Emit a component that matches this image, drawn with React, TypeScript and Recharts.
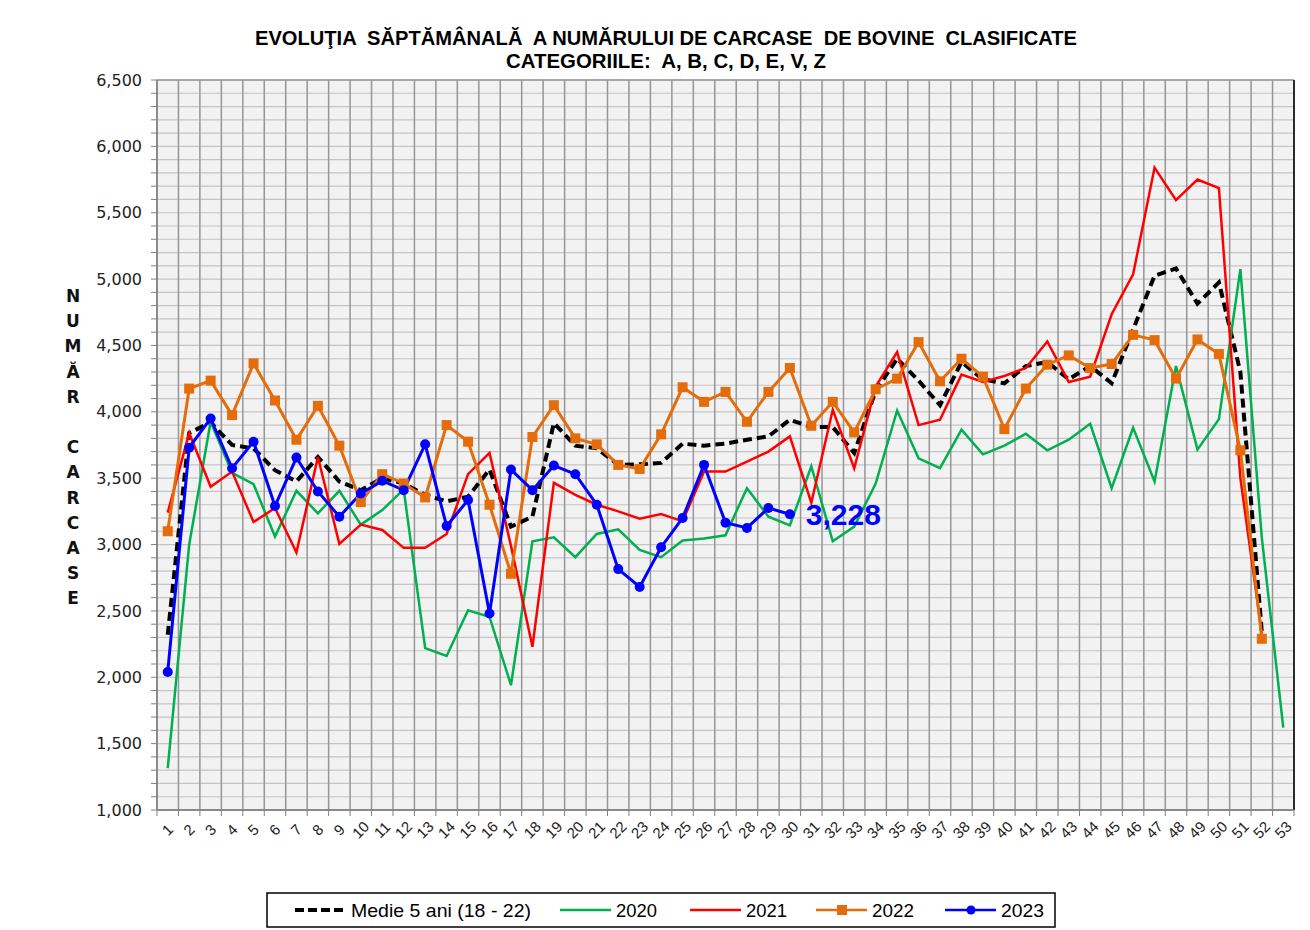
import React from 'react';
import { LineChart, Line, XAxis, YAxis, CartesianGrid, ReferenceLine, LabelList } from 'recharts';

// week numbers on the category axis
const weeks = [
  1, 2, 3, 4, 5, 6, 7, 8, 9, 10, 11, 12, 13, 14, 15, 16, 17, 18, 19, 20, 21, 22, 23, 24, 25, 26, 27,
  28, 29, 30, 31, 32, 33, 34, 35, 36, 37, 38, 39, 40, 41, 42, 43, 44, 45, 46, 47, 48, 49, 50, 51, 52, 53,
];

const medie5 = [
  2320, 3840, 3920, 3750, 3725, 3560, 3475, 3660, 3475, 3410, 3500, 3460, 3375, 3325, 3360, 3565, 3135, 3210,
  3915, 3745, 3725, 3600, 3605, 3615, 3760, 3745, 3760, 3790, 3815, 3940, 3885, 3885, 3690, 4160, 4400, 4235,
  4050, 4375, 4245, 4215, 4345, 4375, 4245, 4345, 4215, 4620, 5025, 5080, 4815, 4975, 4300, 2340, null,
];

const y2020 = [
  1315, 3000, 3925, 3540, 3455, 3060, 3405, 3235, 3405, 3150, 3260, 3415, 2220, 2160, 2505, 2455, 1940, 3025,
  3055, 2905, 3080, 3115, 2960, 2905, 3030, 3045, 3070, 3425, 3210, 3145, 3590, 3025, 3135, 3460, 4010, 3650,
  3575, 3865, 3680, 3745, 3835, 3710, 3790, 3910, 3425, 3880, 3475, 4345, 3715, 3945, 5075, 3050, 1620,
];

const y2021 = [
  3240, 3840, 3435, 3550, 3170, 3275, 2940, 3660, 3005, 3150, 3110, 2975, 2975, 3080, 3530, 3690, 2990, 2230,
  3465, 3375, 3300, 3250, 3195, 3230, 3175, 3550, 3550, 3625, 3700, 3815, 3315, 4015, 3575, 4190, 4450, 3900,
  3940, 4280, 4225, 4270, 4330, 4530, 4225, 4265, 4735, 5035, 5840, 5595, 5750, 5685, 3500, 2330, null,
];

const y2022 = [
  3100, 4175, 4235, 3975, 4365, 4085, 3790, 4045, 3745, 3320, 3530, 3460, 3355, 3900, 3775, 3300, 2780, 3810,
  4050, 3800, 3755, 3600, 3570, 3830, 4185, 4075, 4150, 3925, 4150, 4330, 3895, 4075, 3845, 4170, 4250, 4525,
  4230, 4400, 4265, 3870, 4175, 4355, 4425, 4330, 4360, 4580, 4540, 4250, 4545, 4435, 3710, 2290, null,
];

const y2023 = [
  2040, 3730, 3950, 3575, 3775, 3290, 3655, 3400, 3210, 3385, 3480, 3410, 3755, 3140, 3335, 2480, 3565, 3410,
  3595, 3530, 3300, 2815, 2680, 2980, 3200, 3600, 3165, 3125, 3275, 3228,
];

const yTicks = [1000, 1500, 2000, 2500, 3000, 3500, 4000, 4500, 5000, 5500, 6000, 6500];
const yTitle = ['N', 'U', 'M', 'Ă', 'R', ' ', 'C', 'A', 'R', 'C', 'A', 'S', 'E'];

const data = weeks.map((w, i) => ({
  week: w,
  medie: medie5[i] ?? null,
  y2020: y2020[i] ?? null,
  y2021: y2021[i] ?? null,
  y2022: y2022[i] ?? null,
  y2023: y2023[i] ?? null,
}));

// every 100 carcases a light grid line, every 500 a darker one
const minorTicks: number[] = [];
for (let v = 1000; v <= 6500; v += 100) minorTicks.push(v);
// vertical grid lines sit between the weeks
const catEdges = [0, ...weeks].map((w) => w + 0.5);

const GREEN = '#00b050';
const RED = '#ff0000';
const ORANGE = '#e46c0a';
const BLUE = '#0000ff';

const fmt = (v: number) => v.toLocaleString('en-US');

const WeekTick = (props: any) => {
  const { x, y, payload } = props;
  return (
    <text
      x={x}
      y={y + 11}
      textAnchor="middle"
      transform={`rotate(-45 ${x} ${y + 6})`}
      fontSize={15}
      fontFamily="Liberation Sans, Arial, sans-serif"
      fill="#222"
    >
      {payload.value}
    </text>
  );
};

const SquareDot = (props: any) => {
  const { cx, cy, value, index } = props;
  if (cx == null || cy == null || value == null) return <g key={`s${index}`} />;
  return <rect key={`s${index}`} x={cx - 5} y={cy - 5} width={10} height={10} fill={ORANGE} />;
};

const RoundDot = (props: any) => {
  const { cx, cy, value, index } = props;
  if (cx == null || cy == null || value == null) return <g key={`c${index}`} />;
  return <circle key={`c${index}`} cx={cx} cy={cy} r={5} fill={BLUE} />;
};

const lastIdx = y2023.length - 1;
const EndLabel = (props: any) => {
  const { x, y, value, index } = props;
  if (index !== lastIdx || value == null) return null;
  return (
    <text x={x + 16} y={y + 11} fill={BLUE} fontSize={30} fontWeight="bold" fontFamily="Liberation Sans, Arial, sans-serif">
      {fmt(value)}
    </text>
  );
};

const legendItems = [
  { name: 'Medie 5 ani (18 - 22)', color: '#000', x: 29, dash: true, w: 180 },
  { name: '2020', color: GREEN, x: 294, w: 41 },
  { name: '2021', color: RED, x: 424, w: 41 },
  { name: '2022', color: ORANGE, x: 550, marker: 'square', w: 42 },
  { name: '2023', color: BLUE, x: 679, marker: 'circle', w: 43 },
];

const ChartLegend = () => (
  <svg width={792} height={37} style={{ position: 'absolute', left: 266, top: 892 }}>
    <rect x={1} y={1} width={788} height={34} fill="#fff" stroke="#000" strokeWidth={1.5} />
    {legendItems.map((it) => (
      <g key={it.name}>
        <line
          x1={it.x}
          x2={it.x + 51}
          y1={18}
          y2={18}
          stroke={it.color}
          strokeWidth={it.dash ? 4 : 2.5}
          strokeDasharray={it.dash ? '9 4' : undefined}
        />
        {it.marker === 'square' && <rect x={it.x + 21} y={13} width={10} height={10} fill={it.color} />}
        {it.marker === 'circle' && <circle cx={it.x + 26} cy={18} r={4.5} fill={it.color} />}
        <text
          x={it.x + 56}
          y={25}
          fontSize={19}
          fontFamily="Liberation Sans Narrow, Liberation Sans, Arial, sans-serif"
          textLength={it.w}
          lengthAdjust="spacingAndGlyphs"
          fill="#000"
        >
          {it.name}
        </text>
      </g>
    ))}
  </svg>
);

const Titles = () => (
  <svg width={1310} height={930} style={{ position: 'absolute', left: 0, top: 0, pointerEvents: 'none' }}>
    <text
      x={666}
      y={45}
      textAnchor="middle"
      fontSize={20}
      fontWeight="bold"
      fontFamily="Liberation Sans Narrow, Liberation Sans, Arial, sans-serif"
      textLength={822}
      lengthAdjust="spacingAndGlyphs"
      fill="#000"
      style={{ whiteSpace: 'pre' }}
    >
      {'EVOLUŢIA  SĂPTĂMÂNALĂ  A NUMĂRULUI DE CARCASE  DE BOVINE  CLASIFICATE'}
    </text>
    <text
      x={666}
      y={68}
      textAnchor="middle"
      fontSize={20}
      fontWeight="bold"
      fontFamily="Liberation Sans Narrow, Liberation Sans, Arial, sans-serif"
      textLength={320}
      lengthAdjust="spacingAndGlyphs"
      fill="#000"
      style={{ whiteSpace: 'pre' }}
    >
      {'CATEGORIILE:  A, B, C, D, E, V, Z'}
    </text>
    {yTitle.map((ch, i) => (
      <text
        key={i}
        x={73}
        y={302 + i * 25.2}
        textAnchor="middle"
        fontSize={17}
        fontWeight="bold"
        fontFamily="DejaVu Sans, Verdana, sans-serif"
        fill="#111"
      >
        {ch}
      </text>
    ))}
  </svg>
);

export default function App() {
  return (
    <div style={{ position: 'relative', width: 1310, height: 930, background: '#fff' }}>
      <style>{'body{margin:0}'}</style>
      <LineChart width={1310} height={930} data={data} margin={{ top: 80, right: 16, bottom: 90, left: 77 }}>
        <CartesianGrid xAxisId="weeks" fill="#f2f2f2" stroke="#c4c4c4" strokeWidth={1.2} vertical={false} />
        <CartesianGrid yAxisId="major" stroke="#969696" strokeWidth={1.5} />
        {/* axis line with short tick marks between the weeks */}
        <XAxis
          dataKey="week"
          type="number"
          domain={[0.5, 53.5]}
          ticks={catEdges}
          interval={0}
          allowDataOverflow
          height={6}
          tick={() => <g />}
          tickSize={6}
          tickLine={{ stroke: '#808080' }}
          axisLine={{ stroke: '#808080', strokeWidth: 1.5 }}
        />
        <XAxis
          xAxisId="weeks"
          dataKey="week"
          type="number"
          domain={[0.5, 53.5]}
          ticks={weeks}
          interval={0}
          allowDataOverflow
          height={24}
          tick={<WeekTick />}
          tickLine={false}
          axisLine={false}
        />
        <YAxis
          domain={[1000, 6500]}
          ticks={minorTicks}
          interval={0}
          width={80}
          tickFormatter={(v: number) => (v % 500 === 0 ? fmt(v) : '')}
          tickSize={6}
          tickMargin={9}
          tickLine={{ stroke: '#808080' }}
          axisLine={{ stroke: '#808080', strokeWidth: 1.5 }}
          tick={{ fontSize: 16, fill: '#222', fontFamily: 'DejaVu Sans, Verdana, sans-serif' }}
        />
        <YAxis yAxisId="major" domain={[1000, 6500]} ticks={yTicks} interval={0} hide />
        <ReferenceLine x={53.5} stroke="#000" strokeWidth={1.5} />
        <Line
          xAxisId="weeks"
          dataKey="medie"
          stroke="#000"
          strokeWidth={4}
          strokeDasharray="9 5"
          dot={false}
          isAnimationActive={false}
        />
        <Line xAxisId="weeks" dataKey="y2020" stroke={GREEN} strokeWidth={2.5} dot={false} isAnimationActive={false} />
        <Line xAxisId="weeks" dataKey="y2021" stroke={RED} strokeWidth={2.5} dot={false} isAnimationActive={false} />
        <Line
          xAxisId="weeks"
          dataKey="y2022"
          stroke={ORANGE}
          strokeWidth={3}
          dot={<SquareDot />}
          isAnimationActive={false}
        />
        <Line xAxisId="weeks" dataKey="y2023" stroke={BLUE} strokeWidth={3} dot={<RoundDot />} isAnimationActive={false}>
          <LabelList dataKey="y2023" content={<EndLabel />} />
        </Line>
      </LineChart>
      <Titles />
      <ChartLegend />
    </div>
  );
}
